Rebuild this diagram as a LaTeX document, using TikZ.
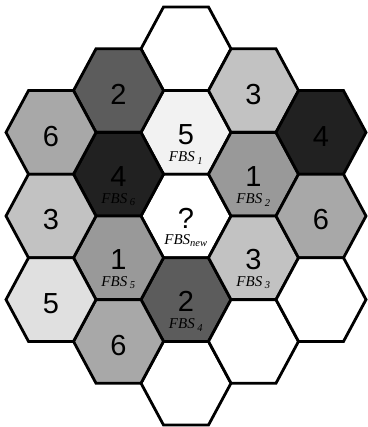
\documentclass[tikz,border=0pt]{standalone}
\usepackage{fontspec}
\setmainfont{Liberation Serif}
\newfontfamily\numfont{Liberation Sans}
\definecolor{cwhite}{gray}{1.0}
\definecolor{cfive}{gray}{0.95}
\definecolor{cfivel}{gray}{0.88}
\definecolor{cthree}{gray}{0.76}
\definecolor{csix}{gray}{0.66}
\definecolor{cone}{gray}{0.60}
\definecolor{ctwo}{gray}{0.36}
\definecolor{cfour}{gray}{0.13}
\tikzset{
  hexline/.style={draw=black, line width=2.8pt, line join=miter},
  numlabel/.style={font=\numfont\fontsize{29}{29}\selectfont, text=black, inner sep=0pt},
  fbslabel/.style={font=\fontsize{15}{15}\selectfont\itshape, text=black, inner sep=0pt}
}
\newcommand{\hexcell}[3]{%
  \filldraw[hexline, fill=#3] ({#1+45},{#2}) -- ({#1+22.5},{#2+41.8}) -- ({#1-22.5},{#2+41.8})
    -- ({#1-45},{#2}) -- ({#1-22.5},{#2-41.8}) -- ({#1+22.5},{#2-41.8}) -- cycle;}
\begin{document}
\begin{tikzpicture}[x=1pt,y=-1pt]
\useasboundingbox (0,0) rectangle (367,427);
% column 0
\hexcell{186}{48.8}{cwhite}
\hexcell{186}{132.4}{cfive}
\hexcell{186}{216}{cwhite}
\hexcell{186}{299.6}{ctwo}
\hexcell{186}{383.2}{cwhite}
% column -1
\hexcell{118.5}{90.6}{ctwo}
\hexcell{118.5}{174.2}{cfour}
\hexcell{118.5}{257.8}{cone}
\hexcell{118.5}{341.4}{csix}
% column 1
\hexcell{253.5}{90.6}{cthree}
\hexcell{253.5}{174.2}{cone}
\hexcell{253.5}{257.8}{cthree}
\hexcell{253.5}{341.4}{cwhite}
% column -2
\hexcell{51}{132.4}{csix}
\hexcell{51}{216}{cthree}
\hexcell{51}{299.6}{cfivel}
% column 2
\hexcell{321}{132.4}{cfour}
\hexcell{321}{216}{csix}
\hexcell{321}{299.6}{cwhite}
% numbers
\node[numlabel] (n1) at (186,134.4) {5};
\node[numlabel] (n2) at (186,218) {?};
\node[numlabel] (n3) at (186,301.6) {2};
\node[numlabel] (n4) at (118.5,94.6) {2};
\node[numlabel] (n5) at (118.5,176.2) {4};
\node[numlabel] (n6) at (118.5,259.8) {1};
\node[numlabel] (n7) at (118.5,345.4) {6};
\node[numlabel] (n8) at (253.5,94.6) {3};
\node[numlabel] (n9) at (253.5,176.2) {1};
\node[numlabel] (n10) at (253.5,259.8) {3};
\node[numlabel] (n11) at (51,136.4) {6};
\node[numlabel] (n12) at (51,220) {3};
\node[numlabel] (n13) at (51,303.6) {5};
\node[numlabel] (n14) at (321,136.4) {4};
\node[numlabel] (n15) at (321,220) {6};
% FBS labels
\node[fbslabel] (f1) at (186,158) {FBS\,\textsubscript{1}};
\node[fbslabel] (f2) at (186,241) {FBS\textsubscript{new}};
\node[fbslabel] (f3) at (186,325) {FBS\,\textsubscript{4}};
\node[fbslabel] (f4) at (118.5,200) {FBS\,\textsubscript{6}};
\node[fbslabel] (f5) at (118.5,283) {FBS\,\textsubscript{5}};
\node[fbslabel] (f6) at (253.5,200) {FBS\,\textsubscript{2}};
\node[fbslabel] (f7) at (253.5,283) {FBS\,\textsubscript{3}};
\end{tikzpicture}
\end{document}
